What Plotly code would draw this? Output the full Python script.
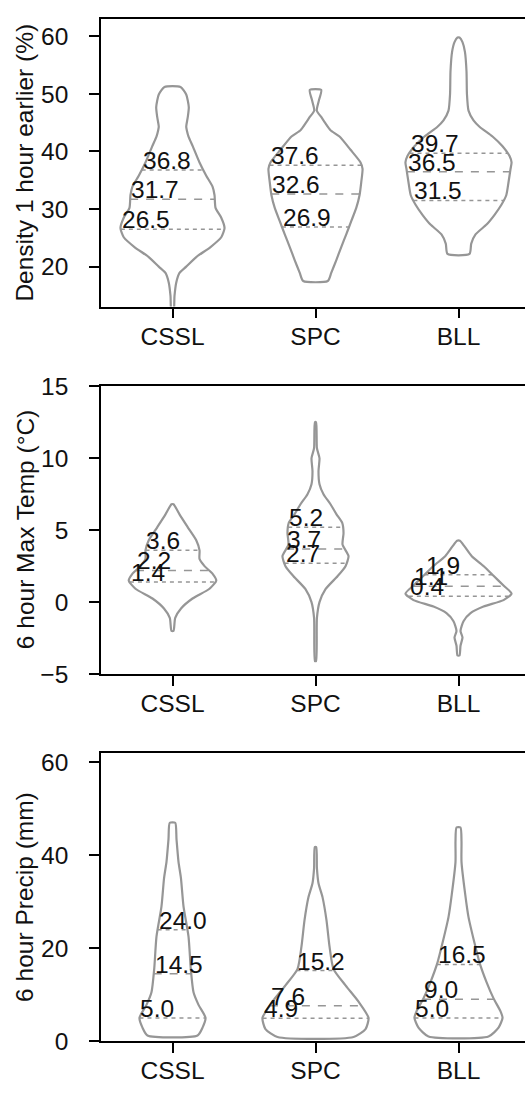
import numpy as np
import plotly.graph_objects as go

categories = ["CSSL", "SPC", "BLL"]

# ---- Panel 1: Density 1 hour earlier (%) ----
# outline: value levels (ascending) and half widths in category units
p1_cssl_lvl = [12.0, 14.9, 17.2, 18.9, 20.0, 21.7, 23.4, 25.1, 26.7, 28.5, 30.2, 32.4,
               33.9, 35.8, 38.1, 40.9, 42.6, 43.7, 44.3, 46.0, 47.7, 49.9, 51.2]
p1_cssl_hw = [0.007, 0.014, 0.026, 0.049, 0.096, 0.168, 0.266, 0.341, 0.364, 0.341, 0.301, 0.294,
              0.280, 0.236, 0.189, 0.142, 0.112, 0.100, 0.096, 0.107, 0.114, 0.096, 0.056]
p1_spc_lvl = [17.5, 18.9, 21.1, 23.4, 25.6, 27.9, 30.2, 32.4, 34.7, 37.0, 38.1, 40.3,
              42.6, 43.7, 44.9, 46.0, 47.1, 48.8, 50.7]
p1_spc_hw = [0.086, 0.110, 0.145, 0.180, 0.215, 0.250, 0.285, 0.308, 0.320, 0.329, 0.315, 0.245,
             0.168, 0.105, 0.070, 0.040, 0.009, 0.023, 0.040]
p1_bll_lvl = [22.2, 24.0, 25.6, 27.3, 29.0, 30.7, 32.4, 34.7, 37.0, 38.1, 39.2, 40.9,
              42.6, 44.3, 45.4, 47.1, 50.0, 53.9, 57.3, 59.0, 59.8]
p1_bll_hw = [0.077, 0.089, 0.119, 0.196, 0.252, 0.299, 0.334, 0.350, 0.364, 0.371, 0.357, 0.308,
             0.238, 0.147, 0.105, 0.070, 0.059, 0.056, 0.045, 0.028, 0.007]
p1_quartiles = [[26.5, 31.7, 36.8], [26.9, 32.6, 37.6], [31.5, 36.5, 39.7]]

# ---- Panel 2: 6 hour Max Temp (°C) ----
p2_cssl_lvl = [-2.0, -1.1, -0.43, 0.25, 0.93, 1.5, 1.95, 2.5, 3.0, 3.6, 4.3, 5.2, 6.1, 6.8]
p2_cssl_hw = [0.007, 0.019, 0.061, 0.140, 0.259, 0.306, 0.282, 0.224, 0.189, 0.189, 0.166, 0.107,
              0.049, 0.007]
p2_spc_lvl = [-4.1, -1.1, 0.0, 0.9, 1.8, 2.5, 3.2, 4.0, 4.8, 5.5, 6.1, 6.8, 7.5, 8.2, 9.1,
              10.0, 10.7, 12.5]
p2_spc_hw = [0.004, 0.010, 0.028, 0.070, 0.154, 0.210, 0.231, 0.189, 0.196, 0.187, 0.147, 0.105,
             0.056, 0.028, 0.021, 0.028, 0.010, 0.004]
p2_bll_lvl = [-3.71, -3.03, -2.46, -2.0, -1.33, -0.77, -0.31, 0.14, 0.59, 1.15, 1.83, 2.51,
              3.19, 3.87, 4.26]
p2_bll_hw = [0.007, 0.014, 0.028, 0.014, 0.035, 0.084, 0.175, 0.315, 0.371, 0.315, 0.245, 0.175,
             0.093, 0.042, 0.010]
p2_quartiles = [[1.4, 2.2, 3.6], [2.7, 3.7, 5.2], [0.4, 1.1, 1.9]]

# ---- Panel 3: 6 hour Precip (mm) ----
p3_cssl_lvl = [1.2, 2.9, 5.0, 7.8, 10.5, 15.5, 22.5, 29.0, 35.1, 38.6, 43.5, 47.0]
p3_cssl_hw = [0.175, 0.210, 0.231, 0.182, 0.147, 0.128, 0.112, 0.077, 0.059, 0.042, 0.028, 0.019]
p3_spc_lvl = [0.9, 2.6, 5.0, 8.5, 12.0, 15.5, 20.4, 26.0, 31.0, 34.0, 37.2, 41.8]
p3_spc_hw = [0.266, 0.350, 0.371, 0.301, 0.210, 0.126, 0.098, 0.077, 0.049, 0.021, 0.010, 0.005]
p3_bll_lvl = [1.0, 2.9, 5.0, 6.4, 9.2, 12.7, 16.9, 21.1, 26.7, 31.6, 38.6, 43.0, 46.0]
p3_bll_hw = [0.210, 0.280, 0.308, 0.294, 0.245, 0.196, 0.147, 0.112, 0.070, 0.047, 0.021, 0.021,
             0.014]
p3_quartiles = [[5.0, 14.5, 24.0], [4.9, 7.6, 15.2], [5.0, 9.0, 16.5]]

y_titles = ["Density 1 hour earlier (%)", "6 hour Max Temp (°C)", "6 hour Precip (mm)"]
y_ticks = [[20, 30, 40, 50, 60], [-5, 0, 5, 10, 15], [0, 20, 40, 60]]
y_ranges = [[13.05, 63.1], [-5, 15], [0, 62.1]]

panels = [
    ([(p1_cssl_lvl, p1_cssl_hw), (p1_spc_lvl, p1_spc_hw), (p1_bll_lvl, p1_bll_hw)], p1_quartiles),
    ([(p2_cssl_lvl, p2_cssl_hw), (p2_spc_lvl, p2_spc_hw), (p2_bll_lvl, p2_bll_hw)], p2_quartiles),
    ([(p3_cssl_lvl, p3_cssl_hw), (p3_spc_lvl, p3_spc_hw), (p3_bll_lvl, p3_bll_hw)], p3_quartiles),
]

W, H = 525, 1099
FONT = "Liberation Sans, Arial, sans-serif"
FS = 24.5
GRAY = "rgb(150,150,150)"
# vertical extents of the three axes boxes (pixels from top)
boxes = [(5.7, 301.0), (382.7, 677.7), (758.3, 1054.0)]
x_left_px = 101

fig = go.Figure()
annotations = []

for i, (outlines, quarts) in enumerate(panels):
    sfx = "" if i == 0 else str(i + 1)
    xref, yref = "x" + sfx, "y" + sfx
    for c, ((lvl, hw), qs) in enumerate(zip(outlines, quarts)):
        lvl = np.asarray(lvl, float)
        hw = np.asarray(hw, float)
        xs = np.concatenate([c + hw, (c - hw)[::-1], [c + hw[0]]])
        ys = np.concatenate([lvl, lvl[::-1], [lvl[0]]])
        fig.add_trace(go.Scatter(
            x=xs, y=ys, mode="lines", xaxis=xref, yaxis=yref,
            line=dict(color=GRAY, width=2.2, shape="spline", smoothing=0.6),
            hoverinfo="skip", showlegend=False))
        for k, q in enumerate(qs):
            w = float(np.interp(q, lvl, hw))
            fig.add_trace(go.Scatter(
                x=[c - w, c + w], y=[q, q], mode="lines", xaxis=xref, yaxis=yref,
                line=dict(color=GRAY, width=1.5,
                          dash="8px,8px" if k == 1 else "4px,4px"),
                hoverinfo="skip", showlegend=False))
            annotations.append(dict(
                x=c - w, y=q, xref=xref, yref=yref, text=f"{q:.1f}",
                showarrow=False, xanchor="left", yanchor="bottom", borderpad=0,
                yshift=-5, font=dict(family=FONT, size=FS, color="#111111")))

    top, bot = boxes[i]
    dom = [1 - bot / H, 1 - top / H]
    fig.layout["xaxis" + sfx] = dict(
        domain=[x_left_px / W, 1], range=[-0.5, -0.5 + (W - x_left_px) / 143.0],
        tickmode="array", tickvals=[0, 1, 2], ticktext=categories,
        showline=True, linecolor="black", linewidth=1.6, mirror=True,
        ticks="outside", ticklen=10, tickwidth=1.6, tickcolor="black",
        showgrid=False, zeroline=False, anchor=yref,
        tickfont=dict(family=FONT, size=FS, color="#111111"), ticklabelstandoff=-3)
    fig.layout["yaxis" + sfx] = dict(
        domain=dom, range=y_ranges[i], tickmode="array", tickvals=y_ticks[i],
        showline=True, linecolor="black", linewidth=1.6, mirror=False,
        ticks="outside", ticklen=10, tickwidth=1.6, tickcolor="black",
        showgrid=False, zeroline=False, anchor=xref,
        tickfont=dict(family=FONT, size=FS, color="#111111"), ticklabelstandoff=16)
    annotations.append(dict(
        x=25 / W, y=(dom[0] + dom[1]) / 2, xref="paper", yref="paper",
        text=y_titles[i], textangle=-90, showarrow=False,
        xanchor="center", yanchor="middle",
        font=dict(family=FONT, size=FS, color="#111111")))

fig.update_layout(
    width=W, height=H, margin=dict(l=0, r=0, t=0, b=0),
    paper_bgcolor="white", plot_bgcolor="white",
    annotations=annotations, showlegend=False)

fig.write_html("out.html")
